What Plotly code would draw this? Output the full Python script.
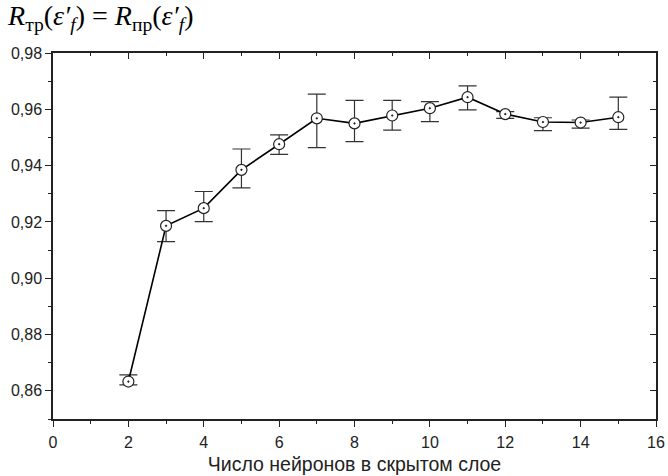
import plotly.graph_objects as go

neurons = [2, 3, 4, 5, 6, 7, 8, 9, 10, 11, 12, 13, 14, 15]
r_value = [0.8633, 0.9186, 0.9249, 0.9385, 0.9476, 0.9568, 0.9550, 0.9578, 0.9604,
           0.9643, 0.9583, 0.9555, 0.9553, 0.9572]
err_plus = [0.0024, 0.0054, 0.0059, 0.0074, 0.0033, 0.0086, 0.0082, 0.0054, 0.0023,
            0.0040, 0.0009, 0.0015, 0.0009, 0.0071]
err_minus = [0.0012, 0.0056, 0.0048, 0.0064, 0.0036, 0.0104, 0.0065, 0.0052, 0.0048,
             0.0045, 0.0015, 0.0031, 0.0020, 0.0043]

x_ticks = [0, 2, 4, 6, 8, 10, 12, 14, 16]
y_ticks = [0.86, 0.88, 0.90, 0.92, 0.94, 0.96, 0.98]

fig = go.Figure()
fig.add_trace(go.Scatter(
    x=neurons, y=r_value, mode="lines+markers",
    line=dict(color="black", width=1.6),
    marker=dict(symbol="circle-dot", size=11, color="white",
                line=dict(width=1.2, color="#222222")),
    error_y=dict(type="data", symmetric=False, array=err_plus, arrayminus=err_minus,
                 color="#333333", thickness=1.2, width=9),
    showlegend=False,
))

font = dict(family="Liberation Sans, Arial, sans-serif", size=16, color="#222222")
axis_common = dict(showline=True, linecolor="#222222", linewidth=1.5, showgrid=False,
                   zeroline=False, ticklen=6, tickwidth=1.2, tickcolor="#222222",
                   automargin=False)

fig.update_layout(
    width=668, height=476,
    margin=dict(l=53, r=12, t=53, b=57),
    plot_bgcolor="white", paper_bgcolor="white",
    separators=", ",
    font=font,
    title=dict(
        text="<i>R</i><sub>тр</sub>(<i>ε′</i><sub><i>f</i></sub>) = <i>R</i><sub>пр</sub>(<i>ε′</i><sub><i>f</i></sub>)",
        x=0.012, xanchor="left", y=0.968, yanchor="middle",
        font=dict(family="Liberation Serif, Times New Roman, serif", size=28, color="black"),
    ),
    xaxis=dict(range=[0, 16], tickvals=x_ticks, ticks="outside",
               tickformat="d", ticklabelstandoff=2,
               minor=dict(dtick=1, tick0=0, ticks="outside", ticklen=3, tickcolor="#222222"),
               title=dict(text="Число нейронов в скрытом слое", standoff=7,
                          font=dict(size=19.5)),
               **axis_common),
    yaxis=dict(range=[0.85, 0.98], tickvals=y_ticks, ticks="outside", tickformat=".2f",
               minor=dict(dtick=0.01, tick0=0.85, ticks="outside", ticklen=3, tickcolor="#222222"),
               **axis_common),
    xaxis2=dict(range=[0, 16], overlaying="x", side="top", tickvals=x_ticks,
                ticks="inside", showticklabels=False,
                minor=dict(dtick=1, tick0=0, ticks="inside", ticklen=3, tickcolor="#222222"),
                **axis_common),
    yaxis2=dict(range=[0.85, 0.98], overlaying="y", side="right", tickvals=y_ticks,
                ticks="inside", showticklabels=False,
                minor=dict(dtick=0.01, tick0=0.85, ticks="inside", ticklen=3, tickcolor="#222222"),
                **axis_common),
)
fig.add_trace(go.Scatter(x=[None], y=[None], xaxis="x2", yaxis="y2", showlegend=False,
                         hoverinfo="skip"))

fig.write_html("out.html")
